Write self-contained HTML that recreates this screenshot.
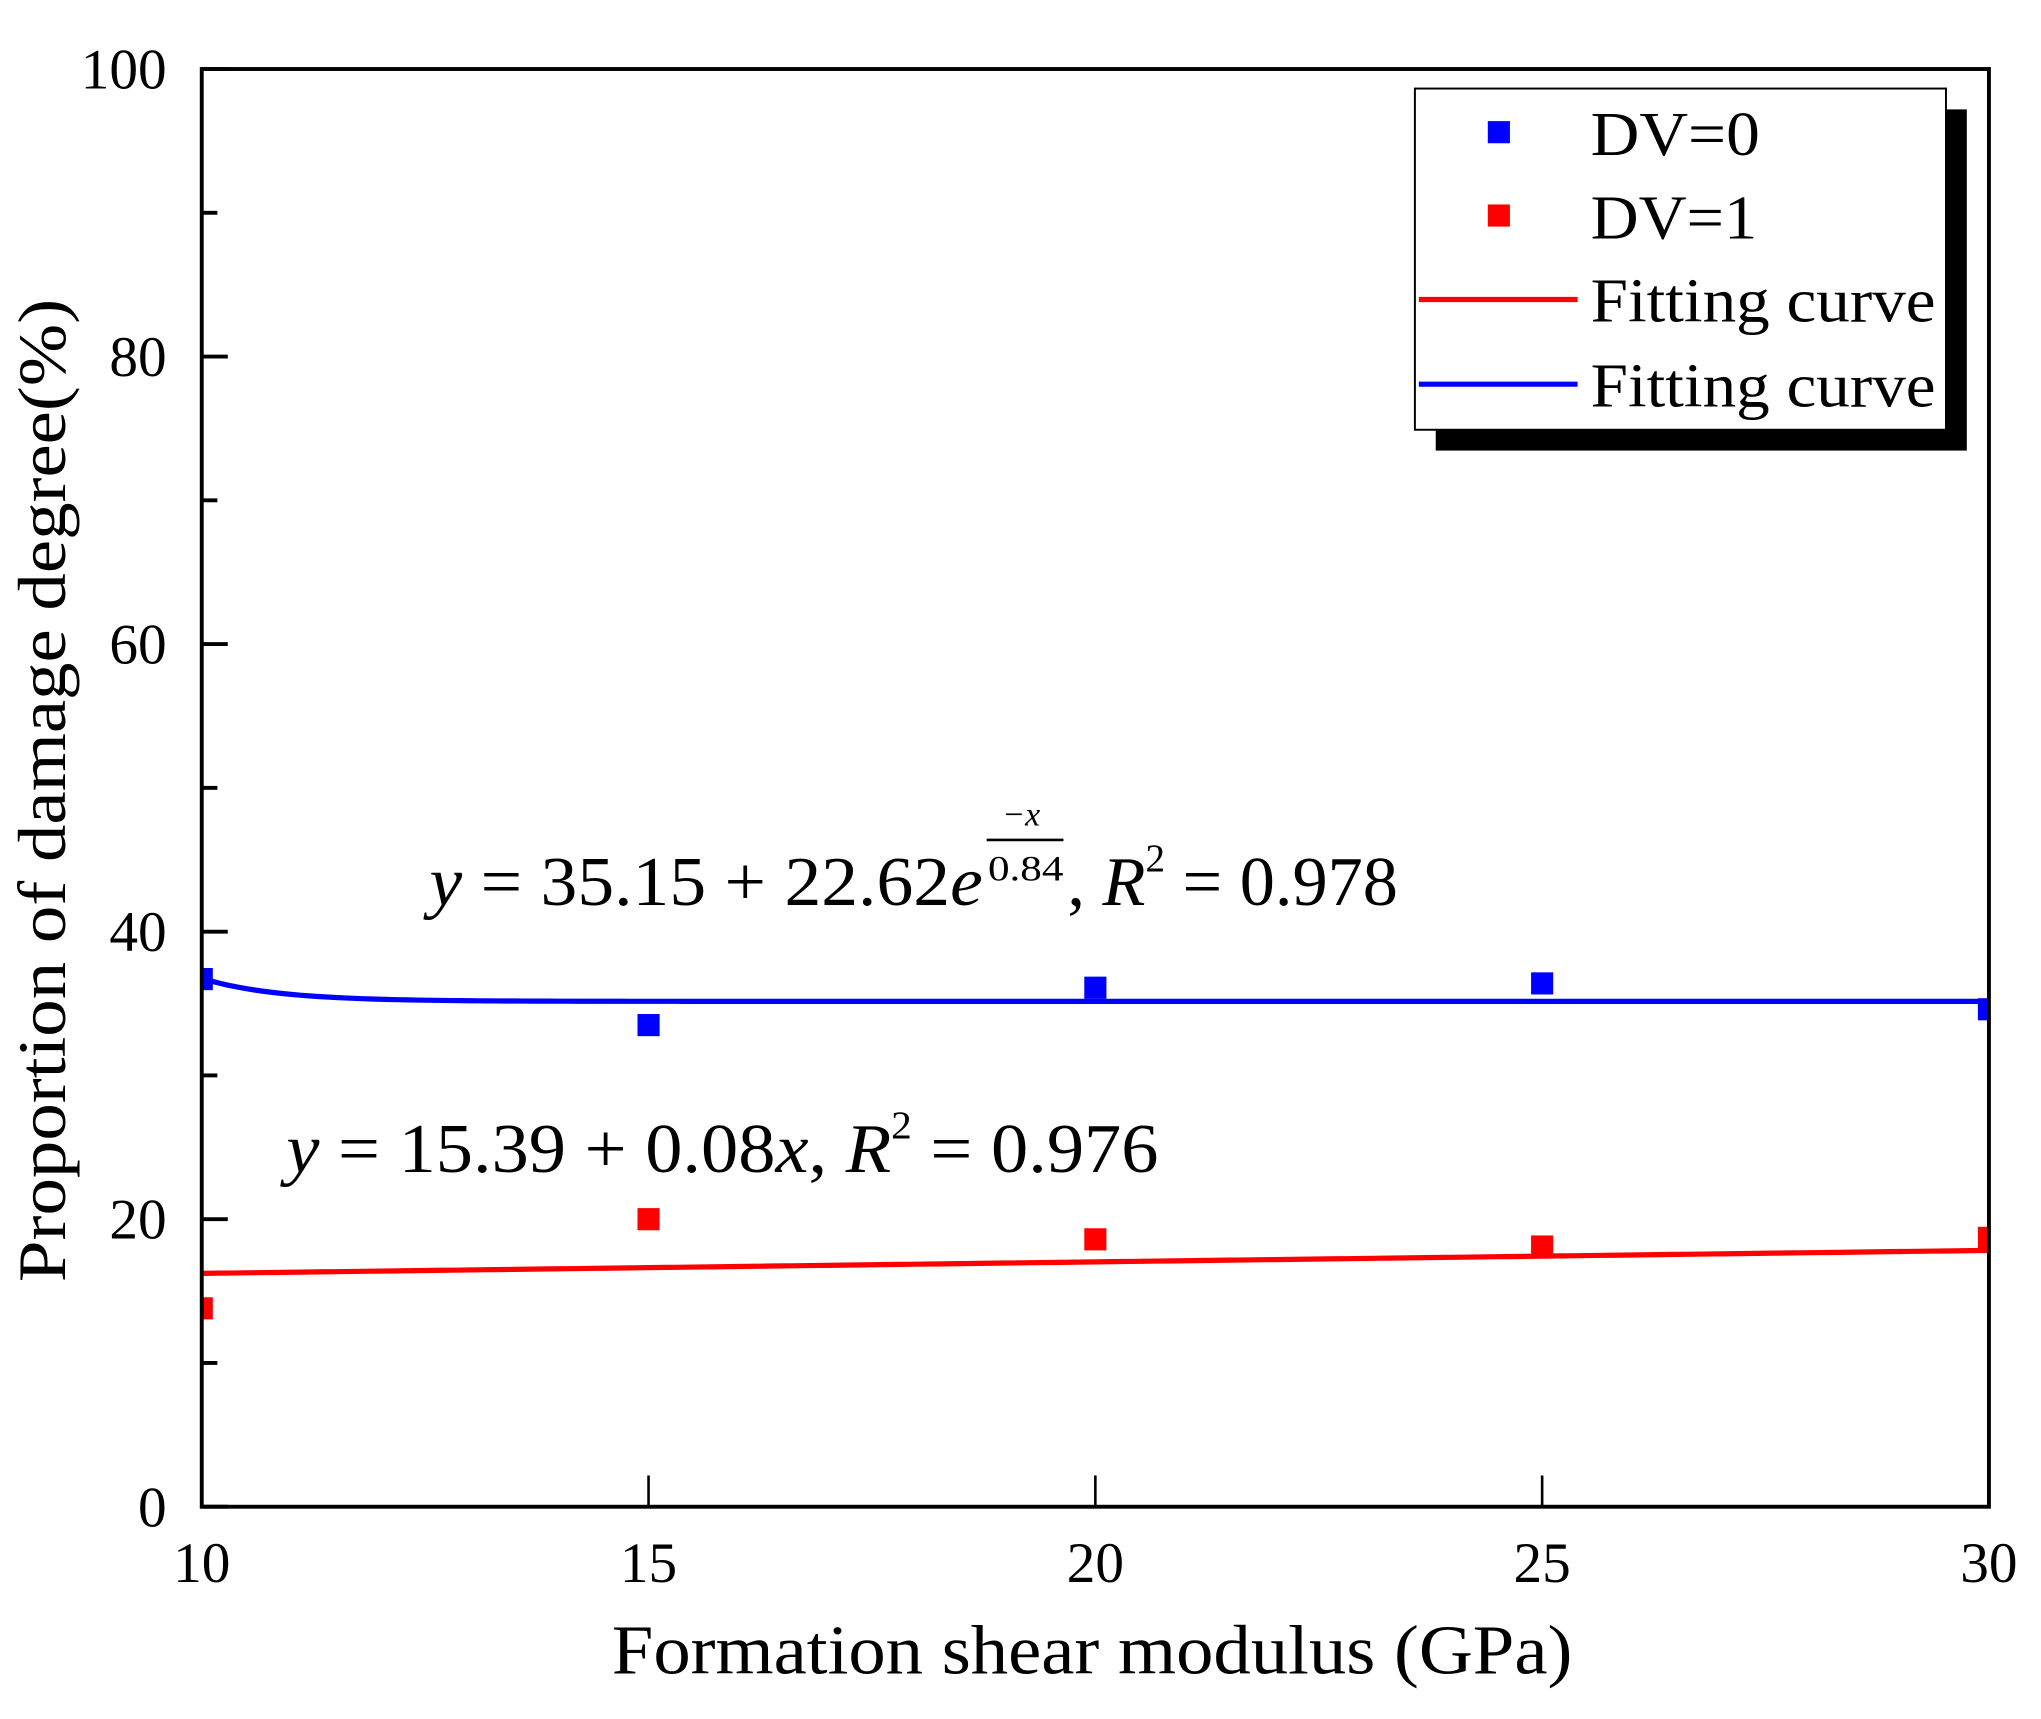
<!DOCTYPE html>
<html><head><meta charset="utf-8"><style>
html,body{margin:0;padding:0;background:#fff;}
svg{display:block;}
text{font-family:"Liberation Serif",serif;fill:#000;}
</style></head><body>
<svg id="chart" width="2041" height="1719" viewBox="0 0 1568 1320" preserveAspectRatio="none" xmlns="http://www.w3.org/2000/svg">
<defs><clipPath id="plotclip"><rect x="155" y="53" width="1373" height="1104"/></clipPath></defs>
<rect x="0" y="0" width="1568" height="1320" fill="#fff"/>
<g id="marks" clip-path="url(#plotclip)"></g>
<rect x="155" y="53" width="1373" height="1104" fill="none" stroke="#000" stroke-width="3"/>
<g id="axes"></g>
<text x="50" y="607" font-size="52" text-anchor="middle" textLength="755" lengthAdjust="spacingAndGlyphs" transform="rotate(-90 50 607)">Proportion of damage degree(%)</text>
<text x="470" y="1285" font-size="54" textLength="738" lengthAdjust="spacingAndGlyphs">Formation shear modulus (GPa)</text>
<g>
<text x="330" y="695" font-size="54" textLength="425" lengthAdjust="spacingAndGlyphs"><tspan font-style="italic">y</tspan> = 35.15 + 22.62<tspan font-style="italic">e</tspan></text>
<text x="770" y="634" font-size="26" font-style="italic">−x</text>
<line x1="758" y1="645" x2="817" y2="645" stroke="#000" stroke-width="2"/>
<text x="759" y="676" font-size="28" textLength="58" lengthAdjust="spacingAndGlyphs">0.84</text>
<text x="820" y="695" font-size="54">, <tspan font-style="italic">R</tspan><tspan font-size="30" dy="-26">2</tspan><tspan dy="26"> = 0.978</tspan></text>
</g>
<text x="220" y="900" font-size="54" textLength="670" lengthAdjust="spacingAndGlyphs"><tspan font-style="italic">y</tspan> = 15.39 + 0.08<tspan font-style="italic">x</tspan>, <tspan font-style="italic">R</tspan><tspan font-size="30" dy="-26">2</tspan><tspan dy="26"> = 0.976</tspan></text>
<g>
<rect x="1103" y="84" width="408" height="262" fill="#000"/>
<rect x="1087" y="68" width="408" height="262" fill="#fff" stroke="#000" stroke-width="1.5"/>
<g><rect x="1143" y="93" width="17" height="17" fill="#0000ff"/><text x="1222" y="119" font-size="48" textLength="130" lengthAdjust="spacingAndGlyphs">DV=0</text></g>
<g><rect x="1143" y="157" width="17" height="17" fill="#ff0000"/><text x="1222" y="183" font-size="48" textLength="128" lengthAdjust="spacingAndGlyphs">DV=1</text></g>
<g><line x1="1090" y1="230" x2="1212" y2="230" stroke="#ff0000" stroke-width="4"/><text x="1222" y="247" font-size="48" textLength="265" lengthAdjust="spacingAndGlyphs">Fitting curve</text></g>
<g><line x1="1090" y1="295" x2="1212" y2="295" stroke="#0000ff" stroke-width="4"/><text x="1222" y="312" font-size="48" textLength="265" lengthAdjust="spacingAndGlyphs">Fitting curve</text></g>
</g>
</svg>
<script>
const xTicks = [10, 15, 20, 25, 30];
const yTicks = [0, 20, 40, 60, 80, 100];
const yMinor = [10, 30, 50, 70, 90];
const modulus = [10, 15, 20, 25, 30];
const dv0 = [36.7, 33.5, 36.1, 36.4, 34.6];
const dv1 = [13.8, 20.0, 18.6, 18.1, 18.7];
const blueFitBase = 35.15;
const blueFitAmp = 1.6;
const blueFitTau = 0.84;
const redFitIntercept = 15.39;
const redFitSlope = 0.08;

const NS = 'http://www.w3.org/2000/svg';
const X0 = 155, X1 = 1528, Y0 = 1157, Y1 = 53;
function sx(v){ return X0 + (v - 10) / 20 * (X1 - X0); }
function sy(v){ return Y0 - v / 100 * (Y0 - Y1); }
function mk(tag, attrs, parent){ const e = document.createElementNS(NS, tag); for (const k in attrs) e.setAttribute(k, attrs[k]); parent.appendChild(e); return e; }

const axes = document.getElementById('axes');
const marks = document.getElementById('marks');

xTicks.forEach(t => {
  const l = mk('line', {x1: sx(t), x2: sx(t), y1: Y0, y2: Y0 - 24, stroke: '#000', 'stroke-width': 2}, axes);
  
  
  const tx = mk('text', {x: sx(t), y: 1215, 'font-size': 44, 'text-anchor': 'middle'}, axes);
  tx.textContent = t;
  
  
});
yTicks.forEach(t => {
  const l = mk('line', {x1: X0, x2: X0 + 20, y1: sy(t), y2: sy(t), stroke: '#000', 'stroke-width': 3}, axes);
  
  
  const tx = mk('text', {x: 128, y: sy(t) + 15, 'font-size': 44, 'text-anchor': 'end'}, axes);
  tx.textContent = t;
  
  
});
yMinor.forEach(t => {
  const l = mk('line', {x1: X0, x2: X0 + 12, y1: sy(t), y2: sy(t), stroke: '#000', 'stroke-width': 3}, axes);
  
  
});

let pb = '', pr = '';
for (let i = 0; i <= 200; i++) {
  const x = 10 + i * 0.1;
  const yb = blueFitBase + blueFitAmp * Math.exp(-(x - 10) / blueFitTau);
  const yr = redFitIntercept + redFitSlope * (x + 0.5);
  pb += (i ? 'L' : 'M') + sx(x).toFixed(2) + ',' + sy(yb).toFixed(2);
  pr += (i ? 'L' : 'M') + sx(x).toFixed(2) + ',' + sy(yr).toFixed(2);
}
const bl = mk('path', {d: pb, fill: 'none', stroke: '#0000ff', 'stroke-width': 4}, marks);


const rl = mk('path', {d: pr, fill: 'none', stroke: '#ff0000', 'stroke-width': 4}, marks);



modulus.forEach((m, i) => {
  const b = mk('rect', {x: sx(m) - 8.5, y: sy(dv0[i]) - 8.5, width: 17, height: 17, fill: '#0000ff'}, marks);
  
  
  const r = mk('rect', {x: sx(m) - 8.5, y: sy(dv1[i]) - 8.5, width: 17, height: 17, fill: '#ff0000'}, marks);
  
  
});
</script>
</body></html>
